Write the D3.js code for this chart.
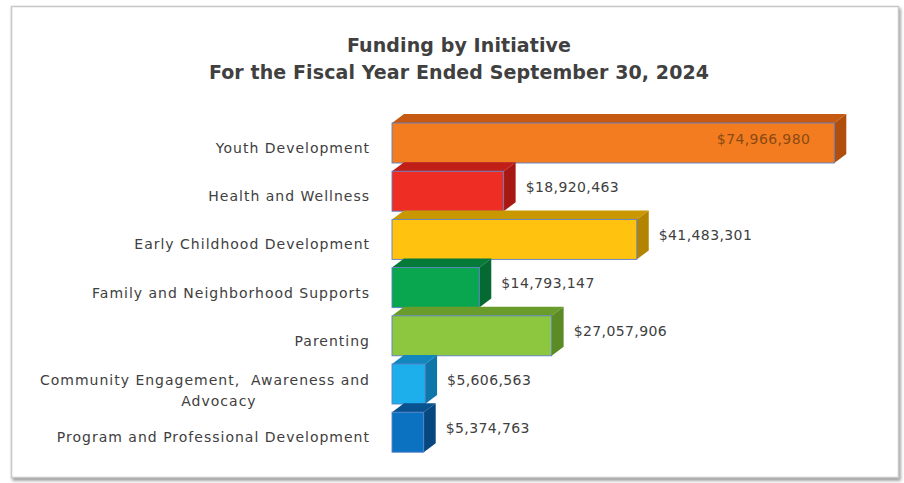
<!DOCTYPE html>
<html>
<head>
<meta charset="utf-8">
<script src="https://cdn.jsdelivr.net/npm/d3@7"></script>
<style>
  html, body { margin: 0; padding: 0; background: #ffffff; }
  svg { display: block; }
  text { white-space: pre; }
</style>
</head>
<body>
<svg id="chart" width="904" height="483"></svg>
<script>
// Funding amounts by initiative, FY ended September 30, 2024
const categories = [
  "Youth Development",
  "Health and Wellness",
  "Early Childhood Development",
  "Family and Neighborhood Supports",
  "Parenting",
  "Community Engagement,  Awareness and Advocacy",
  "Program and Professional Development"
];
const categoryLines = [
  ["Youth Development"],
  ["Health and Wellness"],
  ["Early Childhood Development"],
  ["Family and Neighborhood Supports"],
  ["Parenting"],
  ["Community Engagement,  Awareness and", "Advocacy"],
  ["Program and Professional Development"]
];
const amounts = [74966980, 18920463, 41483301, 14793147, 27057906, 5606563, 5374763];
const valueLabels = ["$74,966,980", "$18,920,463", "$41,483,301", "$14,793,147",
                     "$27,057,906", "$5,606,563", "$5,374,763"];
const frontColors = ["#F47C20", "#EE2E24", "#FFC20E", "#0AA64F", "#8DC63F", "#1CAFEC", "#0B72C2"];
const topColors   = ["#C65A12", "#C21E18", "#C99700", "#067A39", "#6A9C2C", "#1287BE", "#07528F"];
const sideColors  = ["#B04E0C", "#A81812", "#B38400", "#056A31", "#5C8A24", "#0E76A8", "#064780"];
const titleLines = ["Funding by Initiative", "For the Fiscal Year Ended September 30, 2024"];

const svg = d3.select("#chart");
const textColor = "#404040";
const font = "'DejaVu Sans', sans-serif";

// Chart frame with soft shadow on bottom/right
const defs = svg.append("defs");
const sh = defs.append("filter").attr("id", "shadow").attr("x", "-5%").attr("y", "-5%")
  .attr("width", "110%").attr("height", "110%");
sh.append("feDropShadow").attr("dx", 1.5).attr("dy", 2.5).attr("stdDeviation", 1.5)
  .attr("flood-color", "#808080").attr("flood-opacity", 0.8);

svg.append("rect")
  .attr("x", 11.5).attr("y", 6.5).attr("width", 887).attr("height", 471)
  .attr("fill", "#ffffff").attr("stroke", "#c8c8c8").attr("stroke-width", 1.5)
  .attr("filter", "url(#shadow)");

// Title
svg.append("g").selectAll("text").data(titleLines).join("text")
  .attr("x", 459).attr("y", (d, i) => 52 + i * 27)
  .attr("text-anchor", "middle")
  .attr("font-family", font).attr("font-weight", "bold").attr("font-size", 19)
  .attr("letter-spacing", 0.1)
  .attr("fill", textColor)
  .text(d => d);

// Scales
const x = d3.scaleLinear().domain([0, 80e6]).range([392, 864]);
const y = d3.scaleBand().domain(categories).range([118.9, 456.3])
  .paddingInner(0.17).paddingOuter(0.085);

const dx = 12, dy = -9;
const rows = categories.map((c, i) => ({ c, i, v: amounts[i] }));

const bars = svg.append("g").selectAll("g").data(rows).join("g");

// top face
bars.append("path")
  .attr("d", d => {
    const x0 = x(0), x1 = x(d.v), y0 = y(d.c);
    return `M${x0},${y0}L${x0 + dx},${y0 + dy}L${x1 + dx},${y0 + dy}L${x1},${y0}Z`;
  })
  .attr("fill", d => topColors[d.i]);

// side face
bars.append("path")
  .attr("d", d => {
    const x1 = x(d.v), y0 = y(d.c), y1 = y0 + y.bandwidth();
    return `M${x1},${y0}L${x1 + dx},${y0 + dy}L${x1 + dx},${y1 + dy}L${x1},${y1}Z`;
  })
  .attr("fill", d => sideColors[d.i]);

// front face
bars.append("rect")
  .attr("x", x(0))
  .attr("y", d => y(d.c))
  .attr("width", d => x(d.v) - x(0))
  .attr("height", y.bandwidth())
  .attr("fill", d => frontColors[d.i])
  .attr("stroke", "#5A7FC8").attr("stroke-width", 0.9);

// Category labels (right aligned; second line of a wrapped label sits under the first)
const labelSize = 14, labelSpacing = 1;
const labels = svg.append("g").selectAll("g").data(rows).join("g");
labels.each(function(d) {
  const g = d3.select(this);
  const lines = categoryLines[d.i];
  const cy = y(d.c) + y.bandwidth() / 2 + 5;
  const startY = lines.length > 1 ? cy - 9 : cy;
  const first = g.append("text")
    .attr("x", 370).attr("y", startY)
    .attr("text-anchor", "end").attr("dominant-baseline", "central")
    .attr("font-family", font).attr("font-size", labelSize)
    .attr("letter-spacing", labelSpacing).attr("fill", textColor)
    .text(lines[0]);
  if (lines.length > 1) {
    const w = first.node().getComputedTextLength();
    g.append("text")
      .attr("x", 370 - w / 2 + 14).attr("y", startY + 21)
      .attr("text-anchor", "middle").attr("dominant-baseline", "central")
      .attr("font-family", font).attr("font-size", labelSize)
      .attr("letter-spacing", labelSpacing).attr("fill", textColor)
      .text(lines[1]);
  }
});

// Value labels: the largest sits inside its bar, the rest beside the bar end
svg.append("g").selectAll("text").data(rows).join("text")
  .attr("x", d => d.i === 0 ? x(d.v) - 24 : x(d.v) + dx + 10)
  .attr("y", d => y(d.c) + y.bandwidth() / 2 + dy / 2)
  .attr("text-anchor", d => d.i === 0 ? "end" : "start")
  .attr("dominant-baseline", "central")
  .attr("font-family", font).attr("font-size", 14)
  .attr("letter-spacing", 0.4)
  .attr("fill", d => d.i === 0 ? "#8A4A14" : textColor)
  .text(d => valueLabels[d.i]);
</script>
</body>
</html>
